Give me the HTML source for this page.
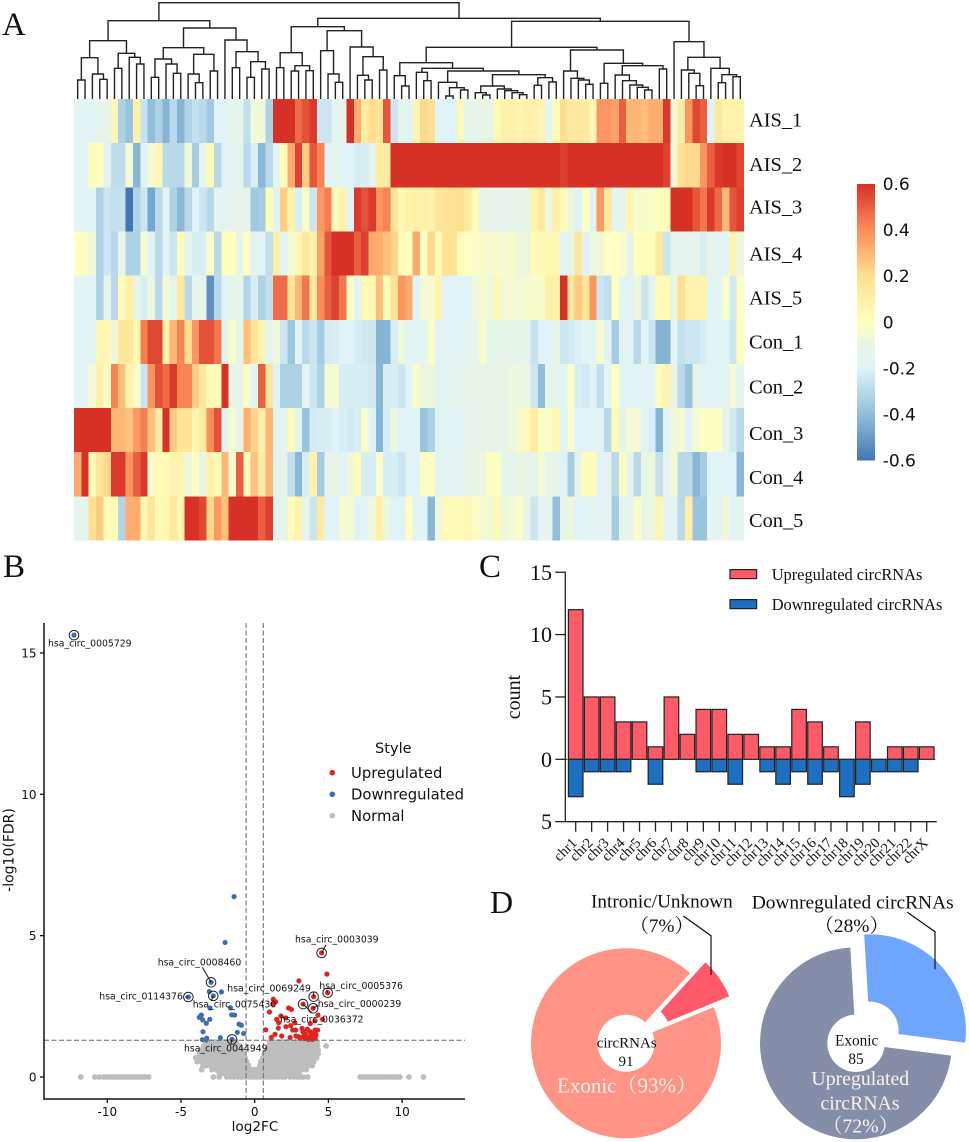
<!DOCTYPE html>
<html lang="en">
<head>
<meta charset="utf-8">
<title>circRNA expression figure</title>
<style>
html,body{margin:0;padding:0;background:#fff;}
svg{display:block;}
.serif{font-family:"Liberation Serif","Noto Serif CJK SC",serif;}
.sans{font-family:"DejaVu Sans",sans-serif;}
</style>
</head>
<body>
<svg id="fig" width="969" height="1142" viewBox="0 0 969 1142" xmlns="http://www.w3.org/2000/svg">
  <defs>
    <linearGradient id="cbGrad" x1="0" y1="1" x2="0" y2="0"></linearGradient>
  </defs>
  <rect x="0" y="0" width="969" height="1142" fill="#fff"/>

  <text class="serif" x="2" y="35" font-size="33" fill="#111">A</text>
  <text class="serif" x="3" y="577" font-size="33" fill="#111">B</text>
  <text class="serif" x="479" y="577" font-size="33" fill="#111">C</text>
  <text class="serif" x="490" y="913" font-size="32" fill="#111">D</text>

  <g id="dendrogram" fill="none" stroke="#222" stroke-width="1.4"></g>
  <g id="heatmap"></g>
  <g id="rowLabels" class="serif" font-size="20.4" fill="#111"></g>
  <g id="colorbar"></g>

  <g id="volcano"></g>
  <text class="sans" x="375" y="753" font-size="14.6" fill="#111">Style</text>
  <g id="volcanoLegend"></g>

  <g id="bars"></g>

  <g id="donuts"></g>
  <polyline points="683.3,916 711,935.7 711,975" fill="none" stroke="#111" stroke-width="1.2"/>
  <polyline points="907.3,912.3 935,931.7 935,969.3" fill="none" stroke="#111" stroke-width="1.2"/>
  <g class="serif" fill="#111">
    <text x="591" y="907.7" font-size="19.2">Intronic/Unknown</text>
    <text x="661.7" y="932" font-size="19.2" text-anchor="middle">（7%）</text>
    <text x="751.7" y="908.3" font-size="19.4">Downregulated circRNAs</text>
    <text x="851.7" y="932" font-size="19.4" text-anchor="middle">（28%）</text>
    <text x="626.7" y="1047.7" font-size="15" text-anchor="middle">circRNAs</text>
    <text x="626" y="1066" font-size="15" text-anchor="middle">91</text>
    <text x="856.7" y="1045.7" font-size="15.3" text-anchor="middle">Exonic</text>
    <text x="856" y="1064" font-size="15.3" text-anchor="middle">85</text>
  </g>
  <g class="serif" fill="#fdf1ec">
    <text x="627" y="1092.3" font-size="21" text-anchor="middle">Exonic（93%）</text>
    <text x="860.3" y="1085" font-size="19.8" text-anchor="middle">Upregulated</text>
    <text x="860" y="1109.3" font-size="19.8" text-anchor="middle">circRNAs</text>
    <text x="860.5" y="1132.3" font-size="19.8" text-anchor="middle">（72%）</text>
  </g>
</svg>

<script>
/* ---------- Panel A: heatmap data ---------- */
const sampleLabels = ['AIS_1','AIS_2','AIS_3','AIS_4','AIS_5','Con_1','Con_2','Con_3','Con_4','Con_5'];
const AIS_1 = [-.17,-.17,-.17,-.11,-.13,.05,-.33,-.38,.09,-.26,
 -.4,-.33,-.43,-.3,-.43,-.32,-.27,-.3,-.36,-.2,
 -.2,-.14,-.14,-.28,-.06,-.06,-.33,.6,.6,.6,
 .47,.53,.58,-.25,-.25,-.16,-.1,.6,.32,.13,
 .2,.17,.52,-.25,-.12,-.2,.06,.22,.2,-.2,
 -.2,-.2,.03,-.14,-.14,-.1,-.1,.04,.08,.09,
 .06,.09,.09,.05,-.15,.02,.2,.13,.13,.13,
 .05,.38,.38,.35,.5,.3,.3,.28,.32,.32,
 .58,-.07,.12,.38,.55,.5,-.2,.15,.08,.08,.08];
const AIS_2 = [-.17,-.17,.02,0,-.18,-.28,-.28,-.05,-.42,-.2,
 -.05,.05,-.3,-.3,-.3,-.06,-.35,-.12,.04,-.3,
 -.2,-.15,-.15,-.3,-.22,-.42,-.3,-.18,.02,.33,
 .56,.25,.52,.42,-.2,-.12,-.2,-.2,-.22,-.22,
 -.15,.12,.12,.6,.6,.6,.6,.6,.6,.6,
 .6,.6,.6,.6,.6,.6,.6,.6,.6,.6,
 .6,.6,.6,.6,.6,.6,.57,.6,.6,.6,
 .6,.6,.6,.6,.6,.6,.6,.6,.6,.6,
 .56,-.07,.2,.22,.22,.38,.5,.58,.6,.6,.55];
const AIS_3 = [-.17,-.17,-.17,-.33,-.25,-.27,-.27,-.6,-.32,-.25,
 -.47,-.3,-.17,-.33,-.42,-.3,-.2,-.25,-.3,-.15,
 -.18,-.13,-.13,-.13,-.36,-.35,.02,-.18,.24,.08,
 -.22,-.03,-.25,.37,.43,.03,.07,-.18,.58,.53,
 .58,.38,.42,.16,.05,.08,.1,.1,.08,.17,
 .17,.18,.2,.13,.03,-.11,-.12,-.12,-.13,-.12,
 -.12,-.1,.07,.14,-.08,.1,.02,-.08,-.2,0,
 -.18,.37,.14,-.13,-.13,.06,-.04,-.03,-.02,0,
 .02,.6,.6,.6,.52,.45,.58,.48,.3,.52,.57];
const AIS_4 = [0,-.02,-.06,-.33,-.25,-.3,-.1,-.33,-.33,-.05,
 -.18,-.3,-.18,-.25,.01,-.15,-.22,-.22,-.03,-.3,
 0,0,-.1,-.01,-.18,-.18,-.28,.1,-.18,-.05,
 .06,.15,.08,.35,.52,.6,.6,.6,.5,.57,
 .33,.32,.28,.23,.02,0,.33,0,.22,.03,
 .18,.18,.02,0,-.02,-.03,-.05,-.03,-.05,-.03,
 -.08,-.08,.03,.04,.04,.05,-.2,-.1,.15,-.2,
 -.08,-.07,-.01,0,-.03,-.13,0,.02,.01,.15,
 -.25,-.15,-.15,-.14,-.13,-.22,-.1,-.18,-.18,.07,-.08];
const AIS_5 = [-.17,-.17,-.17,-.33,-.13,-.3,.03,.1,-.1,-.22,
 -.08,-.3,-.05,-.13,.14,-.3,-.12,-.12,-.53,-.3,
 -.2,-.13,-.13,-.32,-.22,-.33,-.27,.47,.47,.17,
 .3,.45,.15,.4,.5,.56,.45,-.02,-.18,.05,
 .05,.28,.02,.18,.38,.33,-.2,-.06,-.04,.07,
 -.2,-.2,-.2,-.2,-.07,-.04,-.07,.04,-.06,-.05,
 -.06,-.04,-.03,-.03,.1,.1,.6,.17,.25,.17,
 .38,-.25,-.28,0,-.18,-.18,-.08,-.25,-.15,.03,
 .03,-.09,.2,.07,.07,.08,-.17,-.17,-.03,-.24,0];
const Con_1 = [-.17,-.17,-.17,.06,.05,-.07,.15,.15,.05,.43,
 .55,.55,.08,.3,.42,.2,.38,.53,.53,.45,
 -.18,-.03,-.12,.28,.17,.07,-.17,-.07,-.25,-.37,
 -.18,-.3,-.25,-.35,-.23,-.22,-.2,-.2,-.22,-.24,
 -.25,-.43,-.43,-.22,-.08,-.17,-.2,-.16,-.02,-.18,
 -.18,-.18,-.18,-.15,-.13,-.03,-.12,-.12,-.12,-.12,
 -.12,-.12,-.26,-.2,-.2,-.12,-.25,-.24,-.21,-.17,
 -.17,-.04,-.2,-.35,-.18,-.18,-.3,-.17,-.25,-.43,
 -.43,-.15,-.27,-.25,-.25,-.22,-.17,-.17,-.17,-.25,.02];
const Con_2 = [-.17,-.17,-.05,.1,-.03,.42,.28,.07,-.03,-.25,
 .38,.53,.47,.58,.42,.42,.25,.15,.02,.02,
 .6,-.1,-.1,-.02,-.17,.5,.17,-.2,-.33,-.33,
 -.33,-.17,-.25,-.33,-.05,-.04,-.22,-.22,-.22,-.22,
 -.24,-.42,-.22,-.22,-.25,-.17,-.03,-.08,-.08,-.18,
 -.18,-.16,-.15,-.12,-.11,-.1,-.1,-.1,-.1,-.08,
 -.08,-.09,-.25,-.4,-.12,-.12,-.18,-.02,-.22,-.24,
 -.18,-.28,-.17,0,-.18,-.18,-.18,-.18,-.2,.02,
 .07,-.1,-.3,-.38,-.1,-.2,-.18,-.18,-.18,-.05,-.17];
const Con_3 = [.6,.6,.6,.6,.6,.3,.3,.27,.37,.43,
 .28,.12,.6,.25,.17,.17,.05,.13,.4,.53,
 -.18,-.04,-.1,.32,.23,.1,.3,-.17,-.17,.03,
 -.17,-.38,-.23,-.22,-.22,-.2,-.22,-.24,-.22,-.03,
 -.2,-.43,-.22,-.08,-.2,-.17,-.2,-.38,-.33,-.18,
 -.18,-.18,-.18,-.14,-.13,-.12,-.12,-.11,-.11,-.08,
 -.04,.04,.12,-.02,-.02,.04,-.17,-.03,-.2,-.2,
 -.18,-.18,-.3,.03,-.14,-.05,-.05,-.2,-.22,-.43,
 -.18,-.06,-.05,-.2,-.05,-.01,-.01,-.01,-.14,-.24,-.3];
const Con_4 = [.33,.6,.02,.17,.22,.58,.58,.38,.5,.58,
 -.04,.03,.03,.07,.07,-.08,0,-.1,.08,.03,
 .3,-.04,.5,.03,.27,.12,.3,-.18,-.1,-.28,
 -.42,-.22,.07,-.35,-.13,-.1,-.2,-.07,.03,-.22,
 -.22,-.03,-.22,-.22,-.25,-.18,-.2,-.01,-.01,-.18,
 -.18,-.18,-.16,-.13,-.1,-.08,-.01,-.01,-.12,-.14,
 -.09,-.1,-.12,-.05,-.12,-.11,-.2,-.35,-.1,.02,
 .02,-.2,-.16,-.3,.01,-.14,-.3,-.1,-.08,-.27,
 -.15,-.05,-.3,-.3,-.42,-.35,-.17,-.17,-.2,-.2,-.42];
const Con_5 = [-.15,-.15,.2,.25,.02,.03,-.32,.32,.32,.05,
 .17,.04,.04,.14,.06,.6,.6,.55,.22,.37,
 .27,.6,.6,.6,.6,.5,.57,-.18,-.12,.02,
 .08,-.14,-.25,.13,-.2,-.2,-.05,-.05,-.2,-.2,
 -.06,.1,-.08,-.2,-.2,0,-.18,-.2,-.42,-.07,
 .03,.02,.02,.05,-.01,-.04,-.06,.04,-.08,-.05,
 -.02,-.1,-.25,-.17,-.15,-.4,-.1,-.08,-.2,-.2,
 -.14,-.17,-.16,-.35,-.15,-.15,-.02,-.1,-.08,.06,
 -.18,-.15,-.3,.1,-.38,-.38,-.17,-.15,-.07,-.2,-.15];
const heatRows = [AIS_1,AIS_2,AIS_3,AIS_4,AIS_5,Con_1,Con_2,Con_3,Con_4,Con_5];
const colorStopValues = [-.6,-.4,-.2,-.1,0,.2,.4,.6];
const colorStopHex = ['#4575b4','#91bfdb','#e0f3f8','#e8f5e6','#ffffbf','#fee090','#fc8d59','#d73027'];
const colorbarTicks = [-.6,-.4,-.2,0,.2,.4,.6];
const colorbarTickText = ['-0.6','-0.4','-0.2','0','0.2','0.4','0.6'];
/* dendrogram: nested [mergeHeight, left, right], 0 = leaf */
const dendroTree = [289,
 [235,
  [175,
   [124,[57,0,0],[75,0,[59,0,0]]],
   [137,[92,0,0],[125,0,[105,0,0]]]],
  [213,
   [154,[120,[65,0,0],[105,0,[77,0,0]]],[134,[75,0,[49,0,0]],[84,0,0]]],
   [177,0,[142,[94,0,0],[112,[65,0,0],[90,0,0]]]]]],
 [242,
  [217,
   [139,[94,0,0],[100,[84,0,0],[85,0,0]]],
   [205,[145,0,[75,0,[50,0,0]]],[156,0,[127,[71,0,[57,0,0]],[87,0,0]]]]],
  [233,
   [155,
    [109,
     [70,0,[39,0,0]],
     [92,
      [80,0,[55,0,0]],
      [84,
       [50,0,[34,[9,0,0],[27,0,0]]],
       [73,
        [39,[19,0,[12,0,0]],[30,0,[25,0,[19,0,[13,0,0]]]]],
        [64,[41,0,0],[51,0,0]]]]]],
    [147,
     [84,0,[62,0,[57,0,[44,0,0]]]],
     [107,[47,0,0],[100,[72,0,[55,0,[42,0,[35,0,[27,0,0]]]]],[90,0,0]]]]],
   [172,0,[125,[87,0,[77,0,[40,0,0]]],[92,0,[73,[49,0,0],[67,0,0]]]]]]]];

/* ---------- Panel B: volcano data ---------- */
const volcanoXTicks = [-10,-5,0,5,10];
const volcanoYTicks = [0,5,10,15];
const upX = [4.54,4.9,3,4.95,4,3.28,3.96,1.26,1.42,1.22,1,2.3,2.49,4.29,4.09,3.77,4.6,1.49,1.78,2.1,1.63,2.73,.75,1.6,2.12,2.44,2.58,2.78,1.13,1.38,1.83,2.4,2.8,2.96,3.21,3.28,3.44,3.57,3.75,4.09,4.27,3.98,4.16,3.75,3.53,3.3,3.07,3.91,4.11,3.41,3.64,3.87];
const upY = [4.39,3.64,3.4,2.98,2.84,2.58,2.43,2.75,2.66,2.58,2.3,2.44,2.39,2.19,1.99,1.89,2.04,2.04,2.16,2.09,1.92,1.92,1.67,1.73,1.78,1.82,1.66,1.66,1.4,1.51,1.45,1.4,1.45,1.43,1.72,1.6,1.52,1.69,1.6,1.66,1.66,1.52,1.49,1.43,1.4,1.43,1.37,1.33,1.37,1.36,1.33,1.45];
const downX = [-12.26,-1.4,-2.01,-2.96,-2.81,-4.5,-3.08,-2.26,-3.03,-1.65,-3.67,-3.76,-3.62,-1.56,-1.36,-3.05,-3.53,-3.28,-1.06,-.91,-1.18,-.75,-3.51,-3.26,-3.55,-2.33,-1.54,-3.3];
const downY = [15.63,6.38,4.76,3.35,2.87,2.83,3.02,3.01,2.44,2.45,2.16,2.11,2.19,2.2,2.19,2.04,2.02,1.9,1.87,1.83,1.58,1.54,1.6,1.37,1.32,1.39,1.33,1.31];
const normalLevels = [0,.13,.26,.4,.54,.68,.82,.96,1.1,1.24];
const normalXByLevel = [
 [-11.8,-10.85,-10.55,-10.25,-10.05,-9.85,-9.65,-9.45,-9.25,-9.05,-8.85,-8.65,-8.45,-8.25,-8.05,-7.85,-7.65,-7.45,-7.2,-2.8,-2.4,-1.9,-1.65,-1.4,-1.15,-.9,-.65,-.4,-.15,.1,.35,.6,.85,1.1,1.35,1.6,1.85,2.05,2.4,2.65,2.9,3.1,3.3,3.6,7.15,7.35,7.55,7.75,7.95,8.15,8.35,8.55,8.75,8.95,9.15,9.35,9.55,9.7,9.85,10.47,11.45],
 [-2.4,-2.1,-1.8,-1.5,-1.2,-.9,-.6,-.3,0,.3,.6,.9,1.2,1.5,1.8,2.1,2.4,2.7,3],
 [-3.6,-2.9,-2.6,-2.3,-2,-1.7,-1.4,-1.1,-.8,-.5,-.3,-.1,.1,.3,.5,.8,1.1,1.4,1.7,2,2.3,2.6,2.9,3.2,3.5],
 [-3.5,-3.3,-3,-2.7,-2.4,-2.1,-1.8,-1.5,-1.2,-.9,-.6,-.42,.35,.6,.9,1.2,1.5,1.8,2.1,2.4,2.7,3,3.3,3.6,3.9],
 [-3.9,-3.6,-3.3,-3,-2.7,-2.4,-2.1,-1.8,-1.5,-1.2,-.9,-.55,.42,.7,1,1.3,1.6,1.9,2.2,2.5,2.8,3.1,3.4,3.7,4],
 [-4,-3.7,-3.4,-3.1,-2.8,-2.5,-2.2,-1.9,-1.6,-1.3,-1,-.65,.55,.8,1.1,1.4,1.7,2,2.3,2.6,2.9,3.2,3.5,3.8,4.1,4.2],
 [-3.75,-3.45,-3.15,-2.85,-2.55,-2.25,-1.95,-1.65,-1.35,-1.05,-.75,.65,.95,1.25,1.55,1.85,2.15,2.45,2.75,3.05,3.35,3.65,3.95,4.3],
 [-3.6,-3.3,-3,-2.7,-2.4,-2.1,-1.8,-1.5,-1.2,-.85,.8,1.1,1.4,1.7,2,2.3,2.6,2.9,3.2,3.5,3.8,4.1,4.3],
 [-3.45,-3.15,-2.85,-2.55,-2.25,-1.95,-1.65,-1.35,-1.05,.95,1.25,1.55,1.85,2.15,2.45,2.75,3.05,3.35,3.65,3.95,4.25,4.84],
 [-3.3,-3,-2.7,-2.4,-2.1,-1.8,-1.5,-1.25,1,1.3,1.6,1.9,2.2,2.5,2.8,3.1,3.4,3.7,4,4.25]
];
const calloutNames = ['hsa_circ_0005729','hsa_circ_0003039','hsa_circ_0008460','hsa_circ_0069249','hsa_circ_0005376','hsa_circ_0114376','hsa_circ_0075430','hsa_circ_0000239','hsa_circ_0036372','hsa_circ_0044949'];
const calloutX = [-12.26,4.54,-2.96,4,4.95,-4.5,-2.81,3.96,3.28,-1.54];
const calloutY = [15.63,4.39,3.35,2.84,2.98,2.83,2.87,2.43,2.58,1.33];

/* ---------- Panel C: bar data ---------- */
const chromosomes = ['chr1','chr2','chr3','chr4','chr5','chr6','chr7','chr8','chr9','chr10','chr11','chr12','chr13','chr14','chr15','chr16','chr17','chr18','chr19','chr20','chr21','chr22','chrX'];
const upCounts = [12,5,5,3,3,1,5,2,4,4,2,2,1,1,4,3,1,0,3,0,1,1,1];
const downCounts = [3,1,1,1,0,2,0,0,1,1,2,0,1,2,1,2,1,3,2,1,1,1,0];
const barTicks = [15,10,5,0,-5];
const barTickText = ['15','10','5','0','5'];

/* ---------- Panel D: donut data ---------- */
const circTypePercents = [93,7];
const regulationPercents = [72,28];

/* ---------- helpers ---------- */
const SVGNS = 'http://www.w3.org/2000/svg';
function mk(tag, attrs, parent){
  const e = document.createElementNS(SVGNS, tag);
  for (const k in attrs) e.setAttribute(k, attrs[k]);
  parent.appendChild(e);
  return e;
}
const byId = id => document.getElementById(id);
const DV = '"DejaVu Sans",sans-serif';
const LS = '"Liberation Serif","Noto Serif CJK SC",serif';

/* ---------- heatmap ---------- */
const HM = {x0:74, x1:744, y0:99, y1:540.5};
const cols = heatRows[0].length;
const cellW = (HM.x1-HM.x0)/cols;
const cellH = (HM.y1-HM.y0)/heatRows.length;
const cellX = i => HM.x0 + i*cellW;
const cellY = r => HM.y0 + r*cellH;
function hexToRgb(h){ return [1,3,5].map(p=>parseInt(h.slice(p,p+2),16)); }
function heatColor(v){
  const vs = colorStopValues;
  const c = Math.max(vs[0], Math.min(vs[vs.length-1], v));
  let k = 0;
  while (k < vs.length-2 && c > vs[k+1]) k++;
  const t = (c-vs[k])/(vs[k+1]-vs[k]);
  const a = hexToRgb(colorStopHex[k]), b = hexToRgb(colorStopHex[k+1]);
  return 'rgb('+a.map((q,j)=>Math.round(q+(b[j]-q)*t)).join(',')+')';
}
const hmG = byId('heatmap');
heatRows.forEach((row,r)=>{
  row.forEach((v,i)=>{
    const el = mk('rect',{x:cellX(i),y:cellY(r),width:cellW,height:cellH,fill:heatColor(v),'shape-rendering':'crispEdges'},hmG);
    
    
  });
});
const rowLabelBaselines = [126.7,171,213.5,260.7,304.3,348.3,393.3,440,484,527];
sampleLabels.forEach((s,r)=>{
  const el = mk('text',{x:749,y:rowLabelBaselines[r]},byId('rowLabels'));
  el.textContent = s;
  
  
});

/* dendrogram */
let leafCursor = 0;
const dG = byId('dendrogram');
function drawNode(n){
  if (n === 0){ const x = cellX(leafCursor)+cellW/2; leafCursor++; return {x:x,h:0}; }
  const l = drawNode(n[1]), r = drawNode(n[2]);
  const h = n[0]/3, base = HM.y0;
  const el = mk('path',{d:'M'+l.x+' '+(base-l.h)+'V'+(base-h)+'H'+r.x+'V'+(base-r.h)},dG);
  
  
  return {x:(l.x+r.x)/2,h:h};
}
drawNode(dendroTree);

/* colorbar */
const CB = {x:857,w:18,top:184,bottom:460.5};
const cbY = v => CB.bottom + (v-(-.6))/(1.2)*(CB.top-CB.bottom);
const grad = byId('cbGrad');
colorStopValues.forEach((v,k)=>{
  mk('stop',{offset:((v+.6)/1.2*100)+'%','stop-color':colorStopHex[k]},grad);
});
const cbG = byId('colorbar');
const cbRect = mk('rect',{x:CB.x,y:CB.top,width:CB.w,height:CB.bottom-CB.top,fill:'url(#cbGrad)'},cbG);


colorbarTicks.forEach((v,k)=>{
  const el = mk('text',{x:882.7,y:cbY(v)+6,'font-size':17,'font-family':DV,fill:'#111'},cbG);
  el.textContent = colorbarTickText[k];
  
  
});

/* ---------- volcano ---------- */
const V = {left:44,right:465,top:623,bottom:1099};
const vx = v => 254.7 + v*14.74;
const vy = v => 1077 - v*28.27;
const vG = byId('volcano');
normalLevels.forEach((lv,k)=>{
  normalXByLevel[k].forEach(xv=>{
    const el = mk('circle',{cx:vx(xv),cy:vy(lv),r:2.9,fill:'#bdbdbd'},vG);
    
    
  });
});
upX.forEach((xv,k)=>{
  const el = mk('circle',{cx:vx(xv),cy:vy(upY[k]),r:2.6,fill:'#e2231f'},vG);
  
  
});
downX.forEach((xv,k)=>{
  const el = mk('circle',{cx:vx(xv),cy:vy(downY[k]),r:2.6,fill:'#3a6fb8'},vG);
  
  
});
const thresholdX = [-.585,.585];
const thresholdY = [1.3];
thresholdX.forEach(t=>{
  const el = mk('line',{x1:vx(t),x2:vx(t),y1:V.top,y2:V.bottom,stroke:'#666','stroke-width':1,'stroke-dasharray':'5 2.5'},vG);
  
  
});
thresholdY.forEach(t=>{
  const el = mk('line',{x1:V.left,x2:V.right,y1:vy(t),y2:vy(t),stroke:'#666','stroke-width':1,'stroke-dasharray':'5 2.5'},vG);
  
  
});
/* callouts: label text box anchors and leader offsets are layout, not data */
const calloutLabelLeft = [48,295,157.7,227.3,319.3,99.3,192.7,317.7,280,184];
const calloutLabelMid = [643,939,962.3,988.3,985.7,996.3,1004.3,1003.7,1019,1048.3];
const leaderDX = [0,4.3,-8.7,0,-1,-3.3,-2,5,9,-1];
const leaderDY = [0,-8,-15,-5,-3,0,5,-3,9,4];
calloutNames.forEach((name,k)=>{
  const cx = vx(calloutX[k]), cy = vy(calloutY[k]);
  const ln = mk('line',{x1:cx,y1:cy,x2:cx+leaderDX[k],y2:cy+leaderDY[k],stroke:'#111','stroke-width':1},vG);
  
  
  const ring = mk('circle',{cx:cx,cy:cy,r:4.8,fill:'none',stroke:'#222','stroke-width':1},vG);
  
  
  const tx = mk('text',{x:calloutLabelLeft[k],y:calloutLabelMid[k]+3.3,'font-size':9.3,'font-family':DV,fill:'#111'},vG);
  tx.textContent = name;
  
  
});
const vAxisY = mk('line',{x1:V.left,x2:V.left,y1:V.top,y2:V.bottom+.7,stroke:'#111','stroke-width':1.5},vG);


const vAxisX = mk('line',{x1:V.left,x2:V.right,y1:V.bottom,y2:V.bottom,stroke:'#111','stroke-width':1.5},vG);


volcanoXTicks.forEach(t=>{
  const tk = mk('line',{x1:vx(t),x2:vx(t),y1:V.bottom,y2:V.bottom+4,stroke:'#111','stroke-width':1.3},vG);
  
  
  const tl = mk('text',{x:vx(t),y:1116,'text-anchor':'middle','font-size':12,'font-family':DV,fill:'#111'},vG);
  tl.textContent = String(t);
  
  
});
volcanoYTicks.forEach(t=>{
  const tk = mk('line',{x1:V.left-4,x2:V.left,y1:vy(t),y2:vy(t),stroke:'#111','stroke-width':1.3},vG);
  
  
  const tl = mk('text',{x:36.5,y:vy(t)+4.5,'text-anchor':'end','font-size':12,'font-family':DV,fill:'#111'},vG);
  tl.textContent = String(t);
  
  
});
const vXT = mk('text',{x:255,y:1131,'text-anchor':'middle','font-size':13.6,'font-family':DV,fill:'#111'},vG);
vXT.textContent = 'log2FC';


const vYT = mk('text',{x:0,y:0,transform:'translate(13.5 850) rotate(-90)','text-anchor':'middle','font-size':14,'font-family':DV,fill:'#111'},vG);
vYT.textContent = '-log10(FDR)';



const legendNames = ['Upregulated','Downregulated','Normal'];
const legendColors = ['#e2231f','#3a6fb8','#bdbdbd'];
const legendDotY = [772.7,794.3,815.7];
legendNames.forEach((n,k)=>{
  const d = mk('circle',{cx:332.3,cy:legendDotY[k],r:2.8,fill:legendColors[k]},byId('volcanoLegend'));
  
  
  const t = mk('text',{x:351,y:legendDotY[k]+5.3,'font-size':14.8,'font-family':DV,fill:'#111'},byId('volcanoLegend'));
  t.textContent = n;
  
  
});

/* ---------- bars ---------- */
const BC = {left:565.3,right:936.7,base:821.7};
const bx = i => 575.7 + i*(926.7-575.7)/(chromosomes.length-1);
const by = v => 759.3 - v*12.47;
const BW = 14.6;
const bG = byId('bars');
const zeroDots = mk('line',{x1:BC.left,x2:BC.right,y1:by(0),y2:by(0),stroke:'#222','stroke-width':1,'stroke-dasharray':'2 2'},bG);


chromosomes.forEach((c,i)=>{
  if (upCounts[i] > 0){
    const el = mk('rect',{x:bx(i)-BW/2,y:by(upCounts[i]),width:BW,height:by(0)-by(upCounts[i]),fill:'#ff5a67',stroke:'#222','stroke-width':1.2},bG);
    
    
  }
  if (downCounts[i] > 0){
    const el = mk('rect',{x:bx(i)-BW/2,y:by(0),width:BW,height:by(-downCounts[i])-by(0),fill:'#1d6fc1',stroke:'#222','stroke-width':1.2},bG);
    
    
  }
  const tk = mk('line',{x1:bx(i),x2:bx(i),y1:BC.base,y2:BC.base+10,stroke:'#222','stroke-width':1.3},bG);
  
  
  const tl = mk('text',{x:0,y:0,transform:'translate('+(bx(i)+2)+' '+(BC.base+22)+') rotate(-45)','text-anchor':'end','font-size':14.6,'font-family':LS,fill:'#111'},bG);
  tl.textContent = c;
  
  
});
const bYA = mk('line',{x1:BC.left,x2:BC.left,y1:by(15)-.6,y2:BC.base+.6,stroke:'#222','stroke-width':1.3},bG);


const bXA = mk('line',{x1:BC.left,x2:BC.right,y1:BC.base,y2:BC.base,stroke:'#222','stroke-width':1.3},bG);


barTicks.forEach((t,k)=>{
  const tk = mk('line',{x1:BC.left-10,x2:BC.left,y1:by(t),y2:by(t),stroke:'#222','stroke-width':1.3},bG);
  
  
  const tl = mk('text',{x:552,y:by(t)+7.5,'text-anchor':'end','font-size':22,'font-family':LS,fill:'#111'},bG);
  tl.textContent = barTickText[k];
  
  
});
const bYT = mk('text',{x:0,y:0,transform:'translate(520 697) rotate(-90)','text-anchor':'middle','font-size':20,'font-family':LS,fill:'#111'},bG);
bYT.textContent = 'count';


const barLegendNames = ['Upregulated circRNAs','Downregulated circRNAs'];
const barLegendColors = ['#ff5a67','#1d6fc1'];
const barLegendTop = [569.6,599.6];
barLegendNames.forEach((n,k)=>{
  const s = mk('rect',{x:730,y:barLegendTop[k],width:26.6,height:9,fill:barLegendColors[k],stroke:'#222','stroke-width':1.2},bG);
  
  
  const t = mk('text',{x:771.7,y:barLegendTop[k]+10.6,'font-size':16.4,'font-family':LS,fill:'#111'},bG);
  t.textContent = n;
  
  
});

/* ---------- donuts ---------- */
function sector(cx,cy,r0,r1,a0,a1,off){
  const mid = (a0+a1)/2*Math.PI/180;
  const ox = off*Math.sin(mid), oy = -off*Math.cos(mid);
  const pt = (r,a)=>{const q=a*Math.PI/180;return (cx+ox+r*Math.sin(q)).toFixed(2)+' '+(cy+oy-r*Math.cos(q)).toFixed(2);};
  const large = (a1-a0)>180?1:0;
  return 'M'+pt(r1,a0)+'A'+r1+' '+r1+' 0 '+large+' 1 '+pt(r1,a1)+'L'+pt(r0,a1)+'A'+r0+' '+r0+' 0 '+large+' 0 '+pt(r0,a0)+'Z';
}
function donut(cx,cy,R,r,values,startDeg,colors,offsets,name){
  const total = values.reduce((a,b)=>a+b,0);
  let a = startDeg;
  values.forEach((v,k)=>{
    const sweep = v/total*360;
    const el = mk('path',{d:sector(cx,cy,r,R,a,a+sweep,offsets[k]),fill:colors[k]},byId('donuts'));
    
    
    a += sweep;
  });
}
donut(626,1043.3,95,28.5,circTypePercents,67.6,['#ff9486','#ff5a6a'],[0,18.7],'circ-type-donut');
donut(856,1043.3,96,28.7,regulationPercents,97.4,['#848ea8','#6ea6ff'],[0,19],'regulation-donut');
</script>
</body>
</html>
